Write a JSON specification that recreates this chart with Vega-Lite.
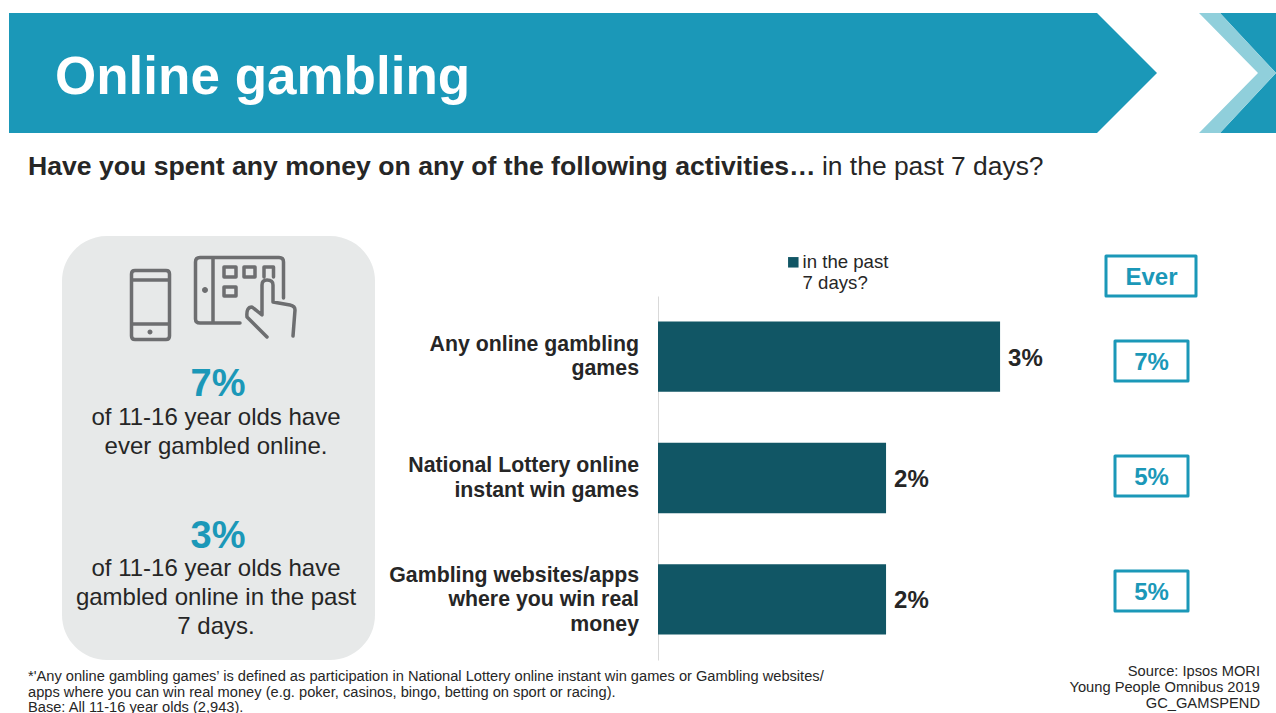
{
"$schema":"https://vega.github.io/schema/vega-lite/v6.json",
"width":618,"height":364,
"autosize":{"type":"none"},
"padding":{"left":658,"top":296,"right":0,"bottom":53},
"background":"#ffffff",
"config":{"font":"Liberation Sans","view":{"stroke":null},"text":{"font":"Liberation Sans"}},
"data":{"values":[
{"activity":"Any online gambling games","past7":0.03,"ever":0.07},
{"activity":"National Lottery online instant win games","past7":0.02,"ever":0.05},
{"activity":"Gambling websites/apps where you win real money","past7":0.02,"ever":0.05}
]},
"resolve":{"scale":{"y":"independent"}},
"layer":[
{"data":{"values":[{}]},"mark":{"type":"point","filled":true,"opacity":1,"size":4,"fill":"#1b98b8","x":-658,"y":-296,"shape":"M9,13H1097L1157,73L1097,133H9Z"},"encoding":{}},
{"data":{"values":[{}]},"mark":{"type":"point","filled":true,"opacity":1,"size":4,"fill":"#1b98b8","x":-658,"y":-296,"shape":"M1220,13H1276V133H1220L1276,73Z"},"encoding":{}},
{"data":{"values":[{}]},"mark":{"type":"point","filled":true,"opacity":1,"size":4,"fill":"#90cfdb","x":-658,"y":-296,"shape":"M1199,13H1220L1276,73L1220,133H1199L1258,73Z"},"encoding":{}},
{"data":{"values":[{}]},"mark":{"type":"point","filled":true,"opacity":1,"size":4,"fill":"#e7e9e9","x":-658,"y":-296,"shape":"M107,236H330A45,45 0 0 1 375,281V615A45,45 0 0 1 330,660H107A45,45 0 0 1 62,615V281A45,45 0 0 1 107,236Z"},"encoding":{}},
{"data":{"values":[{}]},"mark":{"type":"point","filled":false,"opacity":1,"size":4,"stroke":"#6d6e70","strokeWidth":3.5,"strokeCap":"round","strokeJoin":"round","x":-658,"y":-296,"shape":"M135,270.5H166Q169.5,270.5 169.5,274V336Q169.5,339.5 166,339.5H135Q131.5,339.5 131.5,336V274Q131.5,270.5 135,270.5ZM131.5,280H169.5M131.5,324H169.5M240,323H200Q195.5,323 195.5,319V262Q195.5,257.5 200,257.5H279Q283.5,257.5 283.5,262V298M213,257.5V323M224,267H236V277H224ZM244,267H255V277H244ZM264,277V267H273.5V277M224,287H236V296H224ZM267,337L247,317Q246,307 252,307L262,315V285Q262,280 267,280Q273,280 273,285V302L290,305Q295,306 295,310L293,336"},"encoding":{}},
{"data":{"values":[{}]},"mark":{"type":"point","filled":true,"opacity":1,"size":4,"fill":"#6d6e70","x":-658,"y":-296,"shape":"M147.5,332A2.5,2.5 0 1 0 152.5,332A2.5,2.5 0 1 0 147.5,332ZM202,290A3,3 0 1 0 208,290A3,3 0 1 0 202,290Z"},"encoding":{}},
{"data":{"values":[{}]},"mark":{"type":"text","text":"Online gambling","font":"Liberation Sans","fontWeight":"bold","fontSize":53,"fill":"#ffffff","align":"left","baseline":"alphabetic","x":-603,"y":-202},"encoding":{}},
{"data":{"values":[{}]},"mark":{"type":"text","text":"Have you spent any money on any of the following activities…","fontWeight":"bold","fontSize":26.6,"fill":"#262626","align":"left","baseline":"alphabetic","x":-630,"y":-121},"encoding":{}},
{"data":{"values":[{}]},"mark":{"type":"text","text":"in the past 7 days?","fontSize":26.4,"fill":"#262626","align":"left","baseline":"alphabetic","x":164,"y":-121},"encoding":{}},
{"data":{"values":[{}]},"mark":{"type":"text","text":"7%","fontWeight":"bold","fontSize":38,"fill":"#1b98b8","align":"center","baseline":"alphabetic","x":-440,"y":100},"encoding":{}},
{"data":{"values":[{}]},"mark":{"type":"text","text":["of 11-16 year olds have","ever gambled online."],"lineHeight":29,"fontSize":24,"fill":"#262626","align":"center","baseline":"alphabetic","x":-442,"y":129},"encoding":{}},
{"data":{"values":[{}]},"mark":{"type":"text","text":"3%","fontWeight":"bold","fontSize":38,"fill":"#1b98b8","align":"center","baseline":"alphabetic","x":-440,"y":252},"encoding":{}},
{"data":{"values":[{}]},"mark":{"type":"text","text":["of 11-16 year olds have","gambled online in the past","7 days."],"lineHeight":29,"fontSize":24,"fill":"#262626","align":"center","baseline":"alphabetic","x":-442,"y":280},"encoding":{}},
{"data":{"values":[{}]},"mark":{"type":"text","text":["*'Any online gambling games’ is defined as participation in National Lottery online instant win games or Gambling websites/","apps where you can win real money (e.g. poker, casinos, bingo, betting on sport or racing).","Base: All 11-16 year olds (2,943)."],"lineHeight":15.5,"fontSize":14.65,"fill":"#262626","align":"left","baseline":"alphabetic","x":-630,"y":385},"encoding":{}},
{"data":{"values":[{}]},"mark":{"type":"text","text":["Source: Ipsos MORI","Young People Omnibus 2019","GC_GAMSPEND"],"lineHeight":16,"fontSize":14.7,"fill":"#262626","align":"right","baseline":"alphabetic","x":602,"y":380},"encoding":{}},
{"data":{"values":[{}]},"mark":{"type":"point","filled":false,"opacity":1,"size":4,"stroke":"#1b98b8","strokeWidth":3,"strokeJoin":"round","x":-658,"y":-296,"shape":"M1106,256H1196V296H1106Z"},"encoding":{}},
{"data":{"values":[{}]},"mark":{"type":"text","text":"Ever","fontWeight":"bold","fontSize":24,"fill":"#1b98b8","align":"center","baseline":"middle","x":493.5,"y":-18},"encoding":{}},
{"mark":{"type":"bar","clip":false},
"encoding":{
"y":{"field":"activity","type":"nominal","sort":null,"title":null,
"scale":{"type":"band","domain":["Any online gambling games","National Lottery online instant win games","Gambling websites/apps where you win real money"],"paddingInner":0.42,"paddingOuter":0.21},
"axis":{"domain":true,"domainColor":"#d9d9d9","domainWidth":1,"ticks":false,"labels":false}},
"x":{"field":"past7","type":"quantitative","axis":null,"scale":{"domain":[0,0.0542],"nice":false,"zero":true}},
"color":{"datum":"in the past 7 days?","scale":{"domain":["in the past 7 days?"],"range":["#115665"]},
"legend":{"title":null,"orient":"none","legendX":126,"legendY":-43,"symbolType":"square","symbolSize":110,"symbolStrokeWidth":0,"symbolOpacity":1,"labelFontSize":18.6,"labelColor":"#262626","labelFont":"Liberation Sans","labelOffset":0,"labelLimit":200,"labelExpr":"['in the past','7 days?']"}}
}},
{"transform":[{"filter":"datum.activity=='Any online gambling games'"}],
"mark":{"type":"text","text":["Any online gambling","games"],"lineHeight":24.5,"align":"right","baseline":"middle","x":-19,"dy":-12,"fontWeight":"bold","fontSize":21.3,"fill":"#262626"},
"encoding":{"y":{"field":"activity","type":"nominal","sort":null,"axis":null,"scale":{"type":"band","domain":["Any online gambling games","National Lottery online instant win games","Gambling websites/apps where you win real money"],"paddingInner":0.42,"paddingOuter":0.21}}}},
{"transform":[{"filter":"datum.activity=='National Lottery online instant win games'"}],
"mark":{"type":"text","text":["National Lottery online","instant win games"],"lineHeight":24.5,"align":"right","baseline":"middle","x":-19,"dy":-12,"fontWeight":"bold","fontSize":21.3,"fill":"#262626"},
"encoding":{"y":{"field":"activity","type":"nominal","sort":null,"axis":null,"scale":{"type":"band","domain":["Any online gambling games","National Lottery online instant win games","Gambling websites/apps where you win real money"],"paddingInner":0.42,"paddingOuter":0.21}}}},
{"transform":[{"filter":"datum.activity=='Gambling websites/apps where you win real money'"}],
"mark":{"type":"text","text":["Gambling websites/apps","where you win real","money"],"lineHeight":24.5,"align":"right","baseline":"middle","x":-19,"dy":-23.5,"fontWeight":"bold","fontSize":21.3,"fill":"#262626"},
"encoding":{"y":{"field":"activity","type":"nominal","sort":null,"axis":null,"scale":{"type":"band","domain":["Any online gambling games","National Lottery online instant win games","Gambling websites/apps where you win real money"],"paddingInner":0.42,"paddingOuter":0.21}}}},
{"mark":{"type":"text","align":"left","baseline":"middle","dx":8,"dy":2,"fontWeight":"bold","fontSize":24,"fill":"#262626"},
"encoding":{
"y":{"field":"activity","type":"nominal","sort":null,"axis":null,"scale":{"type":"band","domain":["Any online gambling games","National Lottery online instant win games","Gambling websites/apps where you win real money"],"paddingInner":0.42,"paddingOuter":0.21}},
"x":{"field":"past7","type":"quantitative","axis":null,"scale":{"domain":[0,0.0542],"nice":false,"zero":true}},
"text":{"field":"past7","type":"quantitative","format":".0%"}
}},
{"mark":{"type":"point","filled":false,"opacity":1,"size":4,"stroke":"#1b98b8","strokeWidth":3,"strokeJoin":"round","shape":"M-36.5,-20H36.5V20H-36.5Z","x":493.5},
"encoding":{
"y":{"field":"activity","type":"nominal","sort":null,"axis":null,"scale":{"type":"point","padding":0,"domain":["Any online gambling games","National Lottery online instant win games","Gambling websites/apps where you win real money"],"range":[65,295]}}
}},
{"mark":{"type":"text","align":"center","baseline":"middle","dy":2,"fontWeight":"bold","fontSize":24,"fill":"#1b98b8","x":493.5},
"encoding":{
"y":{"field":"activity","type":"nominal","sort":null,"axis":null,"scale":{"type":"point","padding":0,"domain":["Any online gambling games","National Lottery online instant win games","Gambling websites/apps where you win real money"],"range":[65,295]}},
"text":{"field":"ever","type":"quantitative","format":".0%"}
}}
]
}
